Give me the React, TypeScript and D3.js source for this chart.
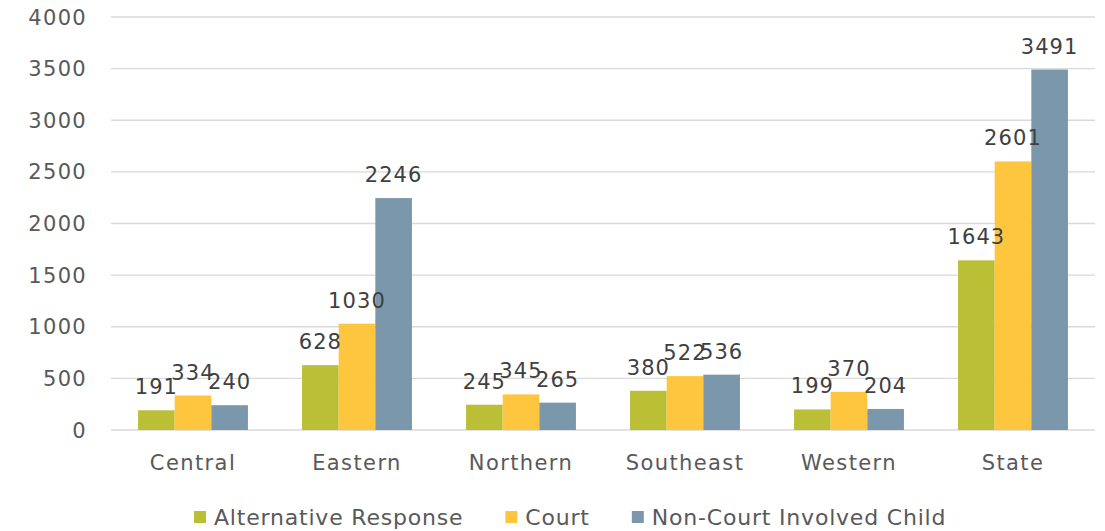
import React, { useEffect, useRef } from "react";
import * as d3 from "d3";

const categories = ["Central", "Eastern", "Northern", "Southeast", "Western", "State"];
const seriesNames = ["Alternative Response", "Court", "Non-Court Involved Child"];
const alternativeResponse = [191, 628, 245, 380, 199, 1643];
const court = [334, 1030, 345, 522, 370, 2601];
const nonCourt = [240, 2246, 265, 536, 204, 3491];
const yTicks = [0, 500, 1000, 1500, 2000, 2500, 3000, 3500, 4000];
const colors = ["#BBBF35", "#FEC63F", "#7B97AC"];

const FONT = "'DejaVu Sans', sans-serif";

const App = () => {
  const svgRef = useRef<SVGSVGElement>(null);

  useEffect(() => {
    const svg = d3.select(svgRef.current);
    svg.selectAll("*").remove();

    const values = [alternativeResponse, court, nonCourt];

    const x = d3
      .scaleBand()
      .domain(categories)
      .range([111, 1095])
      .paddingInner(0.33)
      .paddingOuter(0.165);

    const xInner = d3
      .scaleBand()
      .domain(seriesNames)
      .range([0, x.bandwidth()]);

    const y = d3.scaleLinear().domain([0, 4000]).range([430, 17]);

    // gridlines
    svg
      .append("g")
      .selectAll("line")
      .data(yTicks)
      .join("line")
      .attr("x1", 111)
      .attr("x2", 1095)
      .attr("y1", (d) => y(d))
      .attr("y2", (d) => y(d))
      .attr("stroke", "#D9D9D9")
      .attr("stroke-width", 1.3);

    // y tick labels
    svg
      .append("g")
      .selectAll("text")
      .data(yTicks)
      .join("text")
      .attr("x", 87)
      .attr("y", (d) => y(d))
      .attr("dy", "0.36em")
      .attr("text-anchor", "end")
      .attr("font-family", FONT)
      .attr("font-size", 21)
      .attr("letter-spacing", 1.3)
      .attr("fill", "#595959")
      .text((d) => d);

    // bars
    const groups = svg
      .append("g")
      .selectAll("g")
      .data(categories)
      .join("g")
      .attr("transform", (d) => `translate(${x(d)},0)`);

    groups.each(function (cat, i) {
      const g = d3.select(this);
      seriesNames.forEach((s, j) => {
        const v = values[j][i];
        g.append("rect")
          .attr("x", xInner(s)!)
          .attr("y", y(v))
          .attr("width", xInner.bandwidth())
          .attr("height", y(0) - y(v))
          .attr("fill", colors[j]);
      });
      seriesNames.forEach((s, j) => {
        const v = values[j][i];
        g.append("text")
          .attr("x", xInner(s)! + xInner.bandwidth() / 2)
          .attr("y", y(v) - 16)
          .attr("text-anchor", "middle")
          .attr("font-family", FONT)
          .attr("font-size", 21)
          .attr("letter-spacing", 1.1)
          .attr("fill", "#404040")
          .text(v);
      });
    });

    // x labels
    svg
      .append("g")
      .selectAll("text")
      .data(categories)
      .join("text")
      .attr("x", (d) => x(d)! + x.bandwidth() / 2)
      .attr("y", 470)
      .attr("text-anchor", "middle")
      .attr("font-family", FONT)
      .attr("font-size", 21)
      .attr("letter-spacing", 1.4)
      .attr("fill", "#595959")
      .text((d) => d);

    // legend
    const legend = svg.append("g");
    let lx = 194;
    seriesNames.forEach((s, j) => {
      legend
        .append("rect")
        .attr("x", lx)
        .attr("y", 511)
        .attr("width", 12)
        .attr("height", 12)
        .attr("fill", colors[j]);
      const t = legend
        .append("text")
        .attr("x", lx + 20)
        .attr("y", 525)
        .attr("font-family", FONT)
        .attr("font-size", 22)
        .attr("letter-spacing", 0.8)
        .attr("fill", "#595959")
        .text(s);
      const w = (t.node() as SVGTextElement).getComputedTextLength();
      lx = lx + 20 + w + 42;
    });
  }, []);

  return (
    <svg
      ref={svgRef}
      width={1105}
      height={531}
      style={{ position: "absolute", left: 0, top: 0, background: "#fff" }}
    ></svg>
  );
};

export default App;
